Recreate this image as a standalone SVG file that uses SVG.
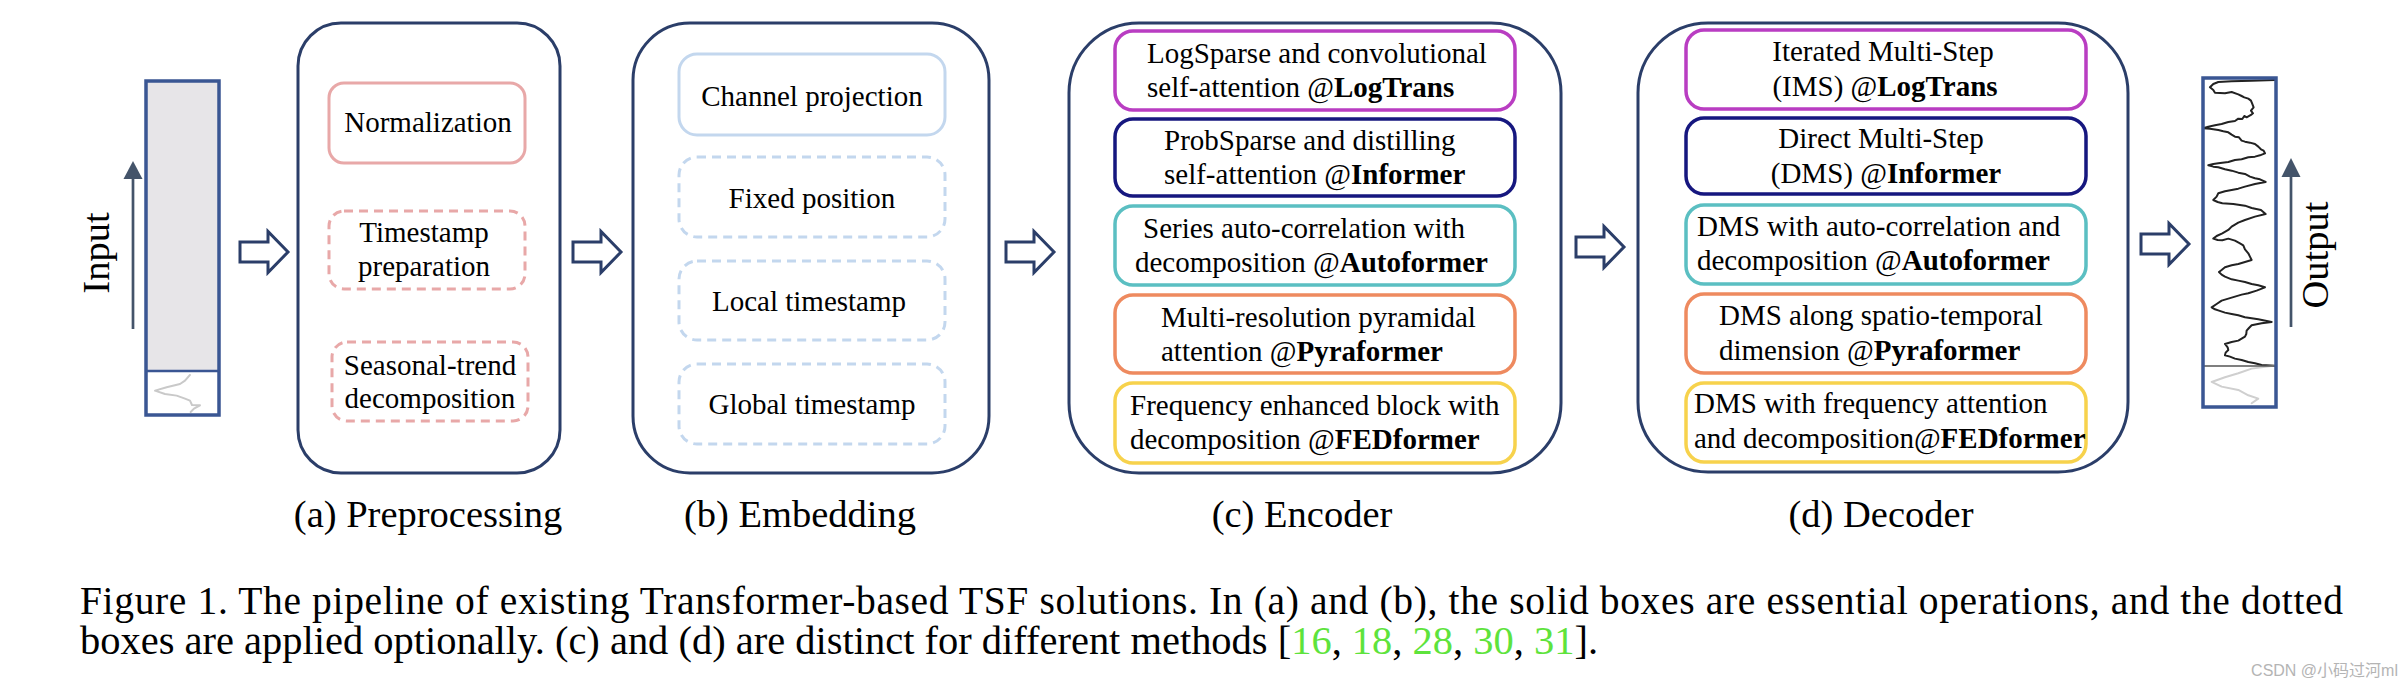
<svg xmlns="http://www.w3.org/2000/svg" width="2405" height="685" viewBox="0 0 2405 685">
<style>
.stage{fill:#fff;stroke:#2b3e69;stroke-width:3}
.harrow{fill:#fff;stroke:#2b3e69;stroke-width:3;stroke-linejoin:miter}
.bar{fill:none;stroke:#3a5693;stroke-width:3.5}
.pink{fill:#fff;stroke:#e8a8a8;stroke-width:3}
.lblue{fill:#fff;stroke:#c3d7ee;stroke-width:3}
.dash{stroke-dasharray:9 6}
.m1{fill:#fff;stroke:#b93dc2;stroke-width:3.5}
.m2{fill:#fff;stroke:#16177f;stroke-width:3.5}
.m3{fill:#fff;stroke:#5bbfc2;stroke-width:3.5}
.m4{fill:#fff;stroke:#ee8a5f;stroke-width:3.5}
.m5{fill:#fff;stroke:#f7d24c;stroke-width:3.5}
text{font-family:"Liberation Serif","Times New Roman",serif;fill:#000}
.t{font-size:29px}
.lab{font-size:38.5px}
.cap{font-size:39.5px}
.b{font-weight:bold}
.c{text-anchor:middle}
.ref{fill:#5ee33c}
.ser{fill:none;stroke-linejoin:round;stroke-linecap:round}
</style>
<defs>
<path id="harr" d="M0,-10 H28 V-20.5 L48,0 L28,20.5 V10 H0 Z"/>
</defs>
<rect width="2405" height="685" fill="#fff"/>

<g id="input">
<rect x="146" y="81" width="73" height="290" fill="#e7e5e8" stroke="none"/>
<rect class="bar" x="146" y="81" width="73" height="334"/>
<line x1="146" y1="371" x2="219" y2="371" stroke="#3a5693" stroke-width="2.5"/>
<polyline class="ser" transform="translate(100,0) scale(0.3333)" stroke="#c9c9c9" stroke-width="6" points="270,1125 255,1142 240,1152 200,1162 165,1172 195,1182 230,1187 255,1196 270,1202 276,1215 300,1216 282,1226 272,1236"/>
<text class="lab c" transform="translate(109,253) rotate(-90)" x="0" y="0">Input</text>
</g>

<g id="preprocessing">
<rect class="stage" x="298" y="23" width="262" height="450" rx="43"/>
<rect class="pink" x="329" y="83" width="196" height="80" rx="15"/>
<text class="t c" x="428" y="132">Normalization</text>
<rect class="pink dash" x="329" y="211" width="196" height="78" rx="15"/>
<text class="t c" x="424" y="242">Timestamp</text>
<text class="t c" x="424" y="276">preparation</text>
<rect class="pink dash" x="332" y="342" width="196" height="79" rx="15"/>
<text class="t c" x="430" y="375">Seasonal-trend</text>
<text class="t c" x="430" y="408">decomposition</text>
<text class="lab c" x="428" y="527">(a) Preprocessing</text>
</g>

<g id="embedding">
<rect class="stage" x="633" y="23" width="356" height="450" rx="57"/>
<rect class="lblue" x="679" y="54" width="266" height="81" rx="18"/>
<text class="t c" x="812" y="106">Channel projection</text>
<rect class="lblue dash" x="679" y="157" width="266" height="80" rx="18"/>
<text class="t c" x="812" y="208">Fixed position</text>
<rect class="lblue dash" x="679" y="261" width="266" height="79" rx="18"/>
<text class="t c" x="809" y="311">Local timestamp</text>
<rect class="lblue dash" x="679" y="364" width="266" height="80" rx="18"/>
<text class="t c" x="812" y="414">Global timestamp</text>
<text class="lab c" x="800" y="527">(b) Embedding</text>
</g>

<g id="encoder">
<rect class="stage" x="1069" y="23" width="492" height="450" rx="70"/>
<rect class="m1" x="1115" y="31" width="400" height="79" rx="18"/>
<text class="t" x="1147" y="63">LogSparse and convolutional</text>
<text class="t" x="1147" y="97">self-attention @<tspan class="b">LogTrans</tspan></text>
<rect class="m2" x="1115" y="119" width="400" height="77" rx="18"/>
<text class="t" x="1164" y="150">ProbSparse and distilling</text>
<text class="t" x="1164" y="184">self-attention @<tspan class="b">Informer</tspan></text>
<rect class="m3" x="1115" y="206" width="400" height="79" rx="18"/>
<text class="t" x="1143" y="238">Series auto-correlation with</text>
<text class="t" x="1135" y="272">decomposition @<tspan class="b">Autoformer</tspan></text>
<rect class="m4" x="1115" y="295" width="400" height="78" rx="18"/>
<text class="t" x="1161" y="327">Multi-resolution pyramidal</text>
<text class="t" x="1161" y="361">attention @<tspan class="b">Pyraformer</tspan></text>
<rect class="m5" x="1115" y="383" width="400" height="80" rx="18"/>
<text class="t" x="1130" y="415">Frequency enhanced block with</text>
<text class="t" x="1130" y="449">decomposition @<tspan class="b">FEDformer</tspan></text>
<text class="lab c" x="1302" y="527">(c) Encoder</text>
</g>

<g id="decoder">
<rect class="stage" x="1638" y="23" width="490" height="449" rx="70"/>
<rect class="m1" x="1686" y="30" width="400" height="79" rx="18"/>
<text class="t c" x="1883" y="61">Iterated Multi-Step</text>
<text class="t c" x="1885" y="96">(IMS) @<tspan class="b">LogTrans</tspan></text>
<rect class="m2" x="1686" y="118" width="400" height="76" rx="18"/>
<text class="t c" x="1881" y="148">Direct Multi-Step</text>
<text class="t c" x="1886" y="183">(DMS) @<tspan class="b">Informer</tspan></text>
<rect class="m3" x="1686" y="205" width="400" height="79" rx="18"/>
<text class="t" x="1697" y="236">DMS with auto-correlation and</text>
<text class="t" x="1697" y="270">decomposition @<tspan class="b">Autoformer</tspan></text>
<rect class="m4" x="1686" y="294" width="400" height="79" rx="18"/>
<text class="t" x="1719" y="325">DMS along spatio-temporal</text>
<text class="t" x="1719" y="360">dimension @<tspan class="b">Pyraformer</tspan></text>
<rect class="m5" x="1686" y="383" width="400" height="79" rx="18"/>
<text class="t" x="1694" y="413">DMS with frequency attention</text>
<text class="t" x="1694" y="448">and decomposition@<tspan class="b">FEDformer</tspan></text>
<text class="lab c" x="1881" y="527">(d) Decoder</text>
</g>

<g id="output">
<rect x="2203" y="78" width="73" height="329" fill="#fff" stroke="none"/>
<g transform="translate(1885,0) scale(0.3333)">
<polyline class="ser" stroke="#222" stroke-width="6" points="1170,240 1100,242 1040,244 1000,246 985,252 975,262 985,270 990,278 1020,280 1040,276 1060,283 1070,288 1078,292 1090,296 1098,302 1102,312 1106,322 1098,332 1104,340 1098,345 1085,352 1078,348 1072,357 1060,356 1050,363 1030,366 1010,372 990,376 970,380 955,385 975,386 1000,390 1015,394 1030,397 1040,404 1050,410 1062,412 1070,422 1080,425 1095,428 1110,432 1120,440 1128,448 1136,452 1140,460 1125,466 1110,470 1090,472 1070,478 1050,480 1030,486 1000,490 985,492 970,496 985,500 1000,502 1020,508 1040,512 1060,518 1080,522 1095,530 1110,535 1125,538 1142,546 1110,552 1080,560 1060,566 1040,570 1020,574 1000,580 995,590 985,600 998,606 1012,610 1045,612 1080,617 1100,624 1128,630 1135,636 1142,642 1110,650 1080,660 1060,668 1040,680 1030,690 1012,700 995,708 985,716 998,720 1012,721 1030,716 1050,722 1065,730 1075,736 1080,748 1090,760 1095,770 1100,780 1080,786 1060,792 1040,796 1020,802 1010,810 1002,816 1010,824 1020,830 1040,838 1060,842 1080,846 1100,852 1120,856 1140,862 1115,872 1090,880 1070,884 1050,890 1030,896 1010,902 995,912 980,922 990,928 1002,932 1020,938 1040,942 1060,946 1080,952 1120,958 1160,966 1130,970 1100,976 1092,984 1085,992 1084,1002 1080,1010 1070,1016 1060,1022 1040,1026 1020,1032 1028,1042 1030,1050 1022,1058 1020,1066 1035,1070 1050,1076 1070,1080 1090,1086 1110,1090 1130,1095 1170,1097"/>
<polyline class="ser" stroke="#cfcfcf" stroke-width="6" points="1170,1097 1100,1106 1060,1120 1020,1132 980,1146 1010,1160 1060,1170 1090,1186 1120,1196 1100,1210"/>
</g>
<line x1="2203" y1="366" x2="2276" y2="366" stroke="#555" stroke-width="1.5"/>
<rect class="bar" x="2203" y="78" width="73" height="329"/>
<text class="lab c" transform="translate(2328,255) rotate(-90)" x="0" y="0">Output</text>
</g>

<g id="connectors">
<use href="#harr" class="harrow" x="240" y="252"/>
<use href="#harr" class="harrow" x="573" y="252"/>
<use href="#harr" class="harrow" x="1006" y="252"/>
<use href="#harr" class="harrow" x="1576" y="247"/>
<use href="#harr" class="harrow" x="2141" y="244"/>
<line x1="133" y1="329" x2="133" y2="176" stroke="#44546a" stroke-width="2.7"/>
<polygon points="133,161 123.5,179 142.5,179" fill="#44546a"/>
<line x1="2291" y1="327" x2="2291" y2="174" stroke="#44546a" stroke-width="2.7"/>
<polygon points="2291,158 2281.5,177 2300.5,177" fill="#44546a"/>
</g>

<g id="caption">
<text class="cap" x="80" y="614" textLength="2263" lengthAdjust="spacing">Figure 1. The pipeline of existing Transformer-based TSF solutions. In (a) and (b), the solid boxes are essential operations, and the dotted</text>
<text class="cap" x="80" y="654" textLength="1518" lengthAdjust="spacingAndGlyphs">boxes are applied optionally. (c) and (d) are distinct for different methods [<tspan class="ref">16</tspan>, <tspan class="ref">18</tspan>, <tspan class="ref">28</tspan>, <tspan class="ref">30</tspan>, <tspan class="ref">31</tspan>].</text>
<text x="2398" y="676" text-anchor="end" style="font-family:'Liberation Sans','Noto Sans CJK SC',sans-serif;font-size:16px;fill:#b4b4b4">CSDN @小码过河ml</text>
</g>
</svg>
